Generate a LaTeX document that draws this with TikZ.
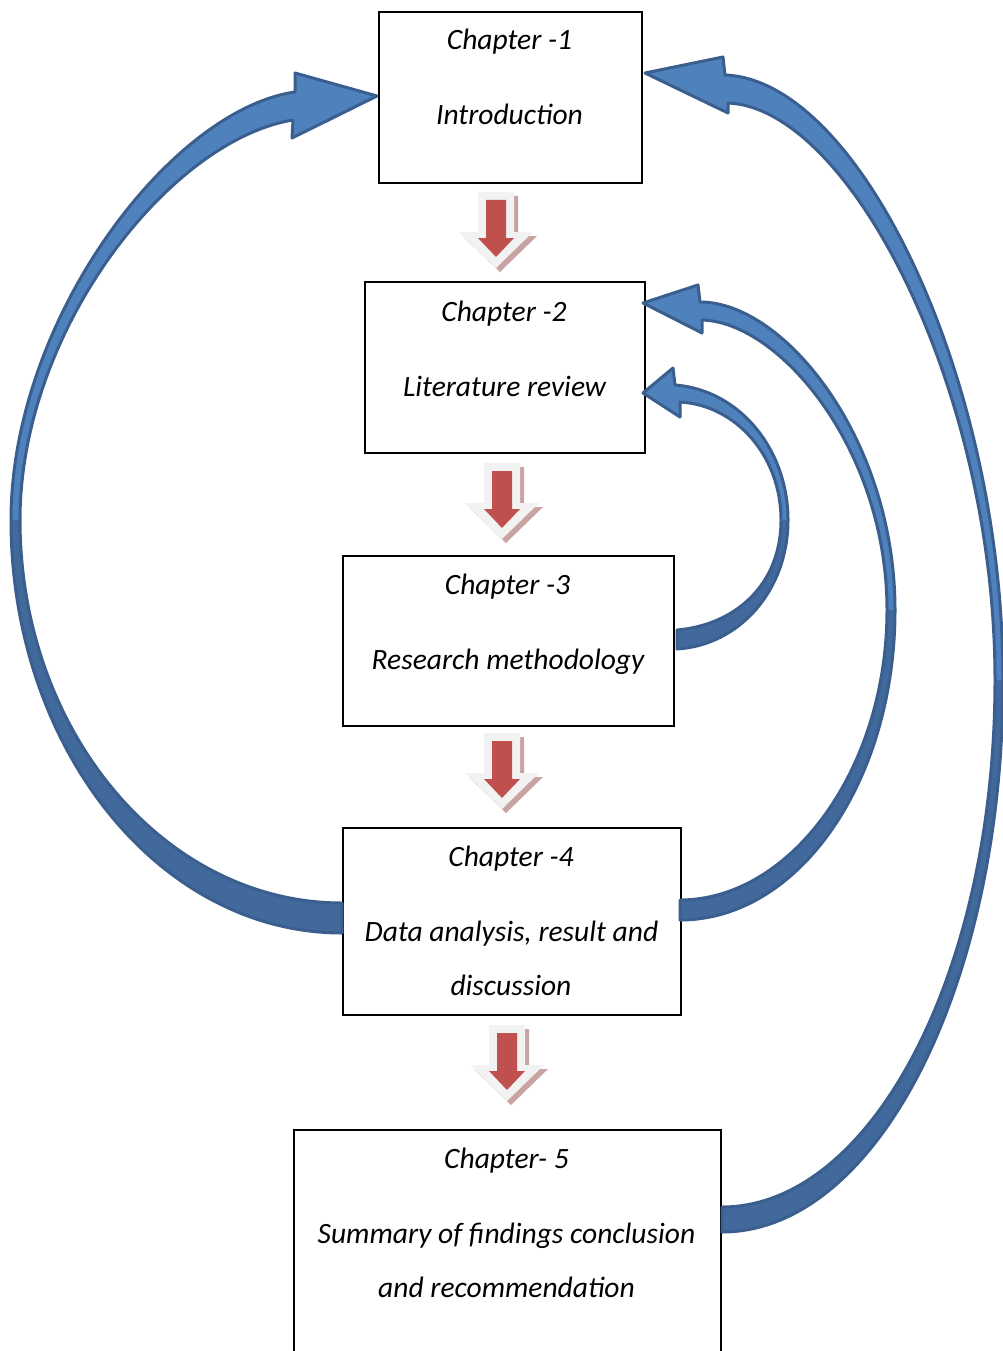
\documentclass[tikz,border=0pt]{standalone}
\usepackage{fontspec}
\setmainfont{Carlito}
\definecolor{blueL}{HTML}{4F81BD}
\definecolor{blueD}{HTML}{41699B}
\definecolor{blueS}{HTML}{3A5F8E}
\definecolor{redA}{HTML}{C0504D}
\definecolor{greyA}{HTML}{F2F2F2}
\definecolor{shadA}{HTML}{C8A3A2}
\tikzset{
  box/.style={draw=black, line width=1.8pt, fill=white, anchor=north west, inner sep=0pt},
  txt/.style={anchor=base, inner sep=0pt, font=\fontsize{29.5}{35}\selectfont\itshape},
  bluefill/.style={fill=blueL, draw=none},
  bluedark/.style={fill=blueD, draw=none},
  blueline/.style={draw=blueS, line width=3pt, line join=round},
  downarr/.pic={
    \fill[shadA] (-14,4) -- (22,4) -- (22,44) -- (41,44) -- (4,80) -- (-33,44) -- (-14,44) -- cycle;
    \fill[greyA] (-18,0) -- (18,0) -- (18,40) -- (37,40) -- (0,76) -- (-37,40) -- (-18,40) -- cycle;
    \fill[redA] (-10,8) -- (10,8) -- (10,46) -- (18,46) -- (0,65) -- (-18,46) -- (-10,46) -- cycle;
  }
}
\begin{document}
\begin{tikzpicture}[x=1pt,y=-1pt]
\useasboundingbox (0,0) rectangle (1003,1351);
\clip (0,0) rectangle (1003,1351);
\fill[white] (0,0) rectangle (1003,1351);

% boxes
\node[box, minimum width=263pt, minimum height=171pt] (c1) at (378,11) {};
\node[box, minimum width=280pt, minimum height=171pt] (c2) at (364,281) {};
\node[box, minimum width=331pt, minimum height=170pt] (c3) at (342,555) {};
\node[box, minimum width=338pt, minimum height=187pt] (c4) at (342,827) {};
\node[box, minimum width=427pt, minimum height=260pt] (c5) at (293,1129) {};

% texts
\node[txt] (t1a) at (509.5,50) {Chapter -1};
\node[txt] (t1b) at (509.5,125) {Introduction};
\node[txt] (t2a) at (504,321) {Chapter -2};
\node[txt] (t2b) at (504.5,396) {Literature review};
\node[txt] (t3a) at (507.5,594) {Chapter -3};
\node[txt] (t3b) at (508,669) {Research methodology};
\node[txt] (t4a) at (511,866) {Chapter -4};
\node[txt] (t4b) at (511.5,941) {Data analysis, result and};
\node[txt] (t4c) at (511,995) {discussion};
\node[txt] (t5a) at (506.5,1168) {Chapter- 5};
\node[txt] (t5b) at (506.5,1243) {Summary of findings conclusion};
\node[txt] (t5c) at (506.5,1297) {and recommendation};

% down arrows
\pic (d1) at (496,192) {downarr};
\pic (d2) at (502,463) {downarr};
\pic (d3) at (502,733) {downarr};
\pic (d4) at (507,1025) {downarr};

% Arrow A (chapter 4 -> chapter 1, left)
\def\arrA{(342,933) .. controls (159,933) and (11,748) .. (11,520) .. controls (11,320) and (170,110) .. (295,92) -- (295,73) -- (377,96) -- (292,138) -- (293,120) .. controls (170,140) and (20,330) .. (20,520) .. controls (20,731) and (164,903) .. (342,903) -- cycle}
\path[bluefill] \arrA;
\path[bluedark] (342,933) .. controls (159,933) and (11,748) .. (11,520) -- (20,520) .. controls (20,731) and (164,903) .. (342,903) -- cycle;
\path[blueline] \arrA;

% Arrow D (chapter 5 -> chapter 1, right)
\def\arrD{(722,1232) .. controls (877,1232) and (1003,985) .. (1003,680) .. controls (1003,380) and (860,80) .. (725,75) -- (723,57) -- (645,73) -- (728,113) -- (728,103) .. controls (850,108) and (995,390) .. (995,680) .. controls (995,975) and (870,1207) .. (722,1207) -- cycle}
\path[bluefill] \arrD;
\path[bluedark] (722,1232) .. controls (877,1232) and (1003,985) .. (1003,680) -- (995,680) .. controls (995,975) and (870,1207) .. (722,1207) -- cycle;
\path[blueline] \arrD;

% Arrow B (chapter 4 -> chapter 2)
\def\arrB{(680,920) .. controls (799,920) and (895,781) .. (895,610) .. controls (895,440) and (785,302) .. (700,302) -- (698,285) -- (643,303) -- (702,333) -- (702,320) .. controls (780,322) and (887,450) .. (887,610) .. controls (887,770) and (790,900) .. (680,900) -- cycle}
\path[bluefill] \arrB;
\path[bluedark] (680,920) .. controls (799,920) and (895,781) .. (895,610) -- (887,610) .. controls (887,770) and (790,900) .. (680,900) -- cycle;
\path[blueline] \arrB;

% Arrow C (chapter 3 -> chapter 2)
\def\arrC{(677,649) .. controls (740,645) and (788,590) .. (788,520) .. controls (788,450) and (740,390) .. (675,385) -- (673,368) -- (643,393) -- (680,417) -- (680,402) .. controls (735,405) and (781,455) .. (781,520) .. controls (781,585) and (735,625) .. (677,630) -- cycle}
\path[bluefill] \arrC;
\path[bluedark] (677,649) .. controls (740,645) and (788,590) .. (788,520) -- (781,520) .. controls (781,585) and (735,625) .. (677,630) -- cycle;
\path[blueline] \arrC;
\end{tikzpicture}
\end{document}
